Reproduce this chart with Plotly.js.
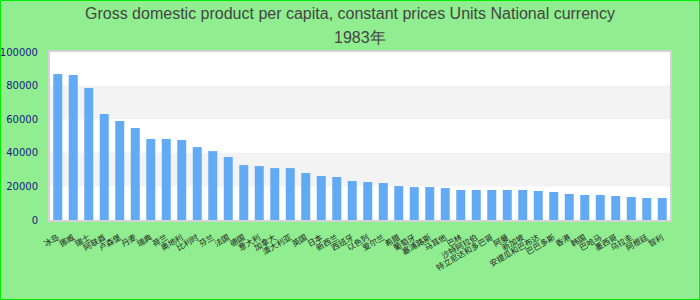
<!DOCTYPE html>
<html>
<head>
<meta charset="utf-8">
<script src="https://cdn.plot.ly/plotly-3.0.1.min.js"></script>
<style>
  html, body { margin: 0; padding: 0; background: #90ee90; }
  #wrap { position: relative; width: 700px; height: 300px; }
  #chart { width: 700px; height: 300px; }
  #frame { position: absolute; left: 0; top: 0; width: 700px; height: 300px; box-sizing: border-box; border: 1px solid #00ee00; pointer-events: none; }
</style>
</head>
<body>
<div id="wrap"><div id="chart"></div><div id="frame"></div></div>
<script>
var titleLine1 = 'Gross domestic product per capita, constant prices Units National currency';
var titleLine2 = '1983年';
var countries = ['冰岛','挪威','瑞士','阿联酋','卢森堡','丹麦','瑞典','荷兰','奥地利','比利时',
  '芬兰','法国','德国','意大利','加拿大','澳大利亚','英国','日本','新西兰','西班牙',
  '以色列','爱尔兰','希腊','葡萄牙','塞浦路斯','马耳他','巴林','沙特阿拉伯','特立尼达和多巴哥','阿曼',
  '新加坡','安提瓜和巴布达','巴巴多斯','香港','韩国','巴哈马','墨西哥','乌拉圭','阿根廷','智利'];
var gdpPerCapita = [86870, 86270, 78540, 63070, 58900, 54740, 48200, 48200, 47600, 43400,
  41000, 37500, 32700, 32100, 30900, 30900, 28000, 26200, 25600, 23200,
  22600, 22000, 20200, 19600, 19600, 19000, 17850, 17850, 17850, 17850,
  17850, 17250, 16660, 15470, 14900, 14900, 14300, 13700, 13100, 13100];
var yTicks = [0, 20000, 40000, 60000, 80000, 100000];
var bands = [[20000, 40000], [60000, 80000]];

var shapes = bands.map(function (b) {
  return { type: 'rect', xref: 'paper', yref: 'y', x0: 0, x1: 1, y0: b[0], y1: b[1],
    fillcolor: '#f3f3f3', line: { width: 0 }, layer: 'below' };
});

var titleFont = { family: 'Liberation Sans, Arial', size: 16, color: '#444444' };

Plotly.newPlot('chart', [{
  type: 'bar',
  x: countries,
  y: gdpPerCapita,
  marker: { color: '#63aaf5' },
  hoverinfo: 'x+y'
}], {
  width: 700, height: 300,
  paper_bgcolor: '#90ee90',
  plot_bgcolor: '#ffffff',
  margin: { l: 50, r: 30, t: 52, b: 80, pad: 0 },
  bargap: 0.42,
  title: {
    text: titleLine1,
    font: titleFont,
    x: 0.5, xanchor: 'center', y: 0.957, yanchor: 'middle', yref: 'container'
  },
  annotations: [{
    text: titleLine2, font: titleFont, showarrow: false,
    xref: 'paper', yref: 'paper', x: 0.5, xanchor: 'center', y: 1.089, yanchor: 'middle'
  }],
  xaxis: {
    type: 'category',
    tickangle: -30,
    tickfont: { family: 'Noto Sans CJK SC', size: 8, color: '#222222' },
    showline: true, mirror: true, linecolor: '#d3d3d3', linewidth: 2,
    showgrid: false, ticks: '', ticklabelstandoff: 8, automargin: false
  },
  yaxis: {
    range: [0, 100000],
    tickvals: yTicks,
    ticktext: yTicks.map(String),
    tickfont: { family: 'DejaVu Sans', size: 10, color: '#1a1a80' },
    showline: true, mirror: true, linecolor: '#d3d3d3', linewidth: 2,
    showgrid: false, zeroline: false, ticks: '', ticklabelstandoff: 8, automargin: false
  },
  shapes: shapes,
  showlegend: false
}, { displayModeBar: false, staticPlot: true });
</script>
</body>
</html>
